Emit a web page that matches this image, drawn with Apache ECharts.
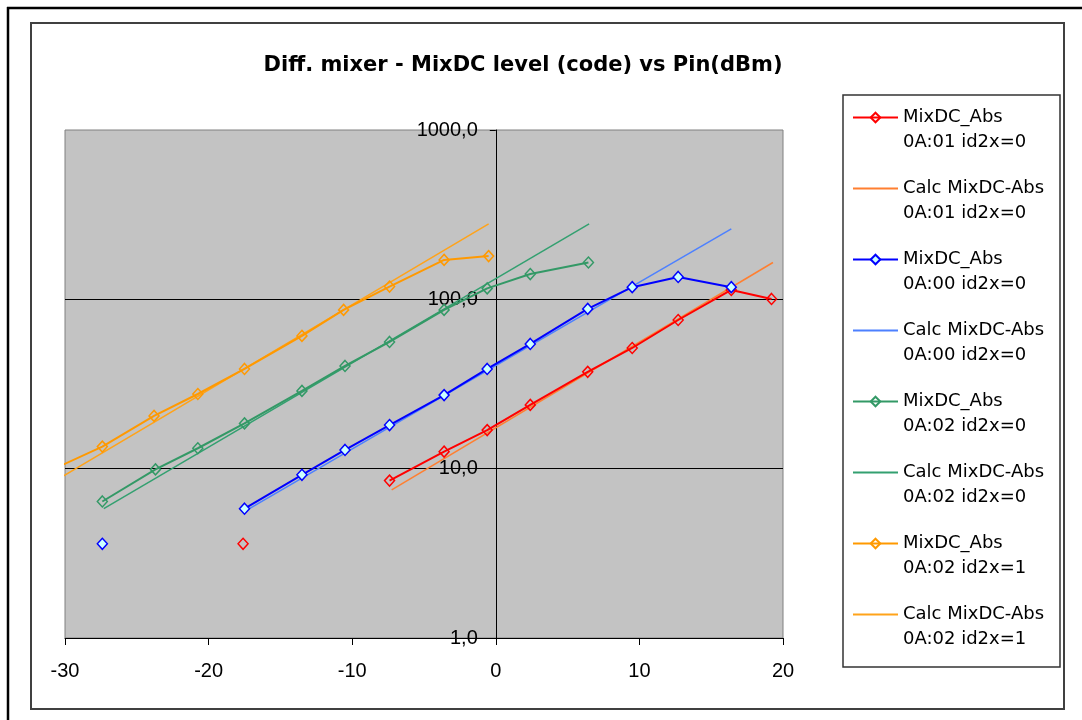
<!DOCTYPE html>
<html>
<head>
<meta charset="utf-8">
<script src="https://cdn.jsdelivr.net/npm/echarts@6/dist/echarts.min.js"></script>
<style>
  html, body { margin: 0; padding: 0; background: #fff; }
  #chart { width: 1082px; height: 720px; }
</style>
</head>
<body>
<div id="chart"></div>
<script>
// Pin (dBm) and MixDC level (code); '-' marks a gap
const pinAbs01 = [-17.6, -12.5, -7.4, -3.6, -0.6, 2.4, 6.4, 9.5, 12.7, 16.4, 19.2];
const mixAbs01 = [3.6, '-', 8.5, 12.6, 16.9, 23.8, 37.3, 51.6, 75.5, 113.6, 100.5];
const pinCalc01 = [-7.25, 19.3];
const mixCalc01 = [7.5, 165];

const pinAbs00 = [-27.4, -22.5, -17.5, -13.5, -10.5, -7.4, -3.6, -0.6, 2.4, 6.4, 9.5, 12.7, 16.4];
const mixAbs00 = [3.6, '-', 5.8, 9.2, 12.9, 18.1, 27.2, 38.8, 54.5, 87.8, 118, 135.6, 118];
const pinCalc00 = [-17.55, 16.4];
const mixCalc00 = [5.55, 261];

const pinAbs02 = [-27.4, -23.7, -20.75, -17.5, -13.5, -10.5, -7.4, -3.6, -0.6, 2.4, 6.45];
const mixAbs02 = [6.4, 9.9, 13.2, 18.5, 28.8, 40.4, 56.0, 86.6, 116, 141, 165];
const pinCalc02 = [-27.3, 6.5];
const mixCalc02 = [5.8, 279];

const pinAbs02x1 = [-30.3, -27.4, -23.8, -20.75, -17.5, -13.5, -10.6, -7.4, -3.6, -0.5];
const mixAbs02x1 = [10.4, 13.5, 20.5, 27.6, 38.8, 60.8, 86.6, 119, 171, 180];
const pinCalc02x1 = [-30.1, -0.5];
const mixCalc02x1 = [9.06, 279];

const xTicks = [-30, -20, -10, 0, 10, 20];

const pairs = (xs, ys) => xs.map((x, i) => ys[i] === '-' ? '-' : [x, ys[i]]);

const font = 'Liberation Sans, Arial, sans-serif';
const wideFont = 'DejaVu Sans, sans-serif';

// grid box
const gridLeft = 65, gridRight = 299, xMin = -30, xMax = 20;
const gridWidth = 1082 - gridLeft - gridRight;
// the value axis crosses the Pin axis at 0 dBm
const yAxisShift = -(0 - xMin) / (xMax - xMin) * gridWidth;

function absSeries(name, xs, ys, color, fill) {
  return {
    name: name,
    type: 'line',
    data: pairs(xs, ys),
    symbol: 'diamond',
    symbolSize: [10, 11],
    lineStyle: { color: color, width: 2 },
    itemStyle: { color: fill, borderColor: color, borderWidth: 1.5 },
    connectNulls: false,
    z: 3
  };
}

function calcSeries(name, xs, ys, color) {
  return {
    name: name,
    type: 'line',
    data: pairs(xs, ys),
    symbol: 'none',
    lineStyle: { color: color, width: 1.5 },
    itemStyle: { color: 'rgba(0,0,0,0)', borderColor: 'rgba(0,0,0,0)' },
    z: 2
  };
}

const chart = echarts.init(document.getElementById('chart'));
chart.setOption({
  animation: false,
  backgroundColor: '#fff',
  title: {
    text: 'Diff. mixer - MixDC level (code) vs Pin(dBm)',
    left: 518,
    top: 50,
    textAlign: 'center',
    textStyle: { fontFamily: wideFont, fontSize: 21, fontWeight: 'bold', color: '#000' }
  },
  legend: {
    orient: 'vertical',
    left: 852,
    top: 80,
    padding: 0,
    itemWidth: 45,
    itemHeight: 12,
    itemGap: -4,
    formatter: name => '\n' + name,
    textStyle: { fontFamily: wideFont, fontSize: 18, lineHeight: 25, color: '#000' }
  },
  graphic: [
    { type: 'line', shape: { x1: 7, y1: 8, x2: 1082, y2: 8 }, style: { stroke: '#000', lineWidth: 2.5 } },
    { type: 'line', shape: { x1: 8, y1: 7, x2: 8, y2: 720 }, style: { stroke: '#000', lineWidth: 2.5 } },
    { type: 'rect', shape: { x: 31, y: 23, width: 1033, height: 686 }, style: { fill: 'none', stroke: '#404040', lineWidth: 2 } },
    { type: 'rect', shape: { x: 843, y: 95, width: 217, height: 572 }, style: { fill: 'none', stroke: '#333', lineWidth: 1.5 } }
  ],
  grid: {
    left: gridLeft, right: gridRight, top: 130, bottom: 82,
    outerBoundsMode: 'none',
    containLabel: false,
    show: true, backgroundColor: '#c3c3c3', borderColor: '#808080', borderWidth: 1
  },
  xAxis: {
    type: 'value',
    min: xMin, max: xMax, interval: 10,
    axisLine: { onZero: false, lineStyle: { color: '#000', width: 1 } },
    axisTick: { show: true, length: 7, lineStyle: { color: '#000' } },
    axisLabel: {
      margin: 23, fontFamily: font, fontSize: 20, color: '#000',
      formatter: v => xTicks.includes(v) ? String(v) : ''
    },
    splitLine: { show: false }
  },
  yAxis: {
    type: 'log',
    logBase: 10,
    min: 1, max: 1000,
    offset: yAxisShift,
    axisLine: { show: true, onZero: false, lineStyle: { color: '#000', width: 1 } },
    axisTick: { show: true, length: 6, lineStyle: { color: '#000' } },
    axisLabel: {
      margin: 18, fontFamily: font, fontSize: 20, color: '#000',
      padding: [8, 0, 0, 0],
      formatter: v => Number(v).toFixed(1).replace('.', ',')
    },
    splitLine: { show: true, showMaxLine: false, lineStyle: { color: '#000', width: 1 } },
    minorTick: { show: false }
  },
  series: [
    absSeries('MixDC_Abs\n0A:01 id2x=0', pinAbs01, mixAbs01, '#ff0000', 'rgba(0,0,0,0)'),
    calcSeries('Calc MixDC-Abs\n0A:01 id2x=0', pinCalc01, mixCalc01, '#ff7f30'),
    absSeries('MixDC_Abs\n0A:00 id2x=0', pinAbs00, mixAbs00, '#0000ff', '#ccffff'),
    calcSeries('Calc MixDC-Abs\n0A:00 id2x=0', pinCalc00, mixCalc00, '#4d80ff'),
    absSeries('MixDC_Abs\n0A:02 id2x=0', pinAbs02, mixAbs02, '#339966', 'rgba(0,0,0,0)'),
    calcSeries('Calc MixDC-Abs\n0A:02 id2x=0', pinCalc02, mixCalc02, '#33a070'),
    absSeries('MixDC_Abs\n0A:02 id2x=1', pinAbs02x1, mixAbs02x1, '#ff9900', 'rgba(0,0,0,0)'),
    calcSeries('Calc MixDC-Abs\n0A:02 id2x=1', pinCalc02x1, mixCalc02x1, '#ffa31a')
  ]
});
</script>
</body>
</html>
